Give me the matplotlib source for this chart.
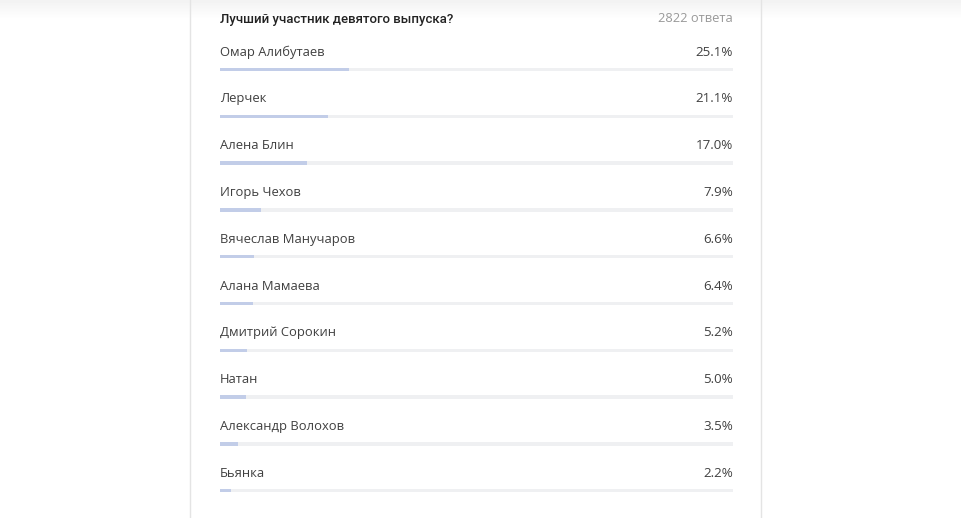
import numpy as np
import matplotlib.pyplot as plt
from matplotlib.lines import Line2D

title = 'Лучший участник девятого выпуска?'
total_label = '2822 ответа'
names = ['Омар Алибутаев', 'Лерчек', 'Алена Блин', 'Игорь Чехов',
         'Вячеслав Манучаров', 'Алана Мамаева', 'Дмитрий Сорокин',
         'Натан', 'Александр Волохов', 'Бьянка']
shares = [25.1, 21.1, 17.0, 7.9, 6.6, 6.4, 5.2, 5.0, 3.5, 2.2]

W, H = 961, 518
plt.rcParams['font.family'] = ['Open Sans', 'DejaVu Sans']

fig = plt.figure(figsize=(W / 100, H / 100), dpi=100)
fig.patch.set_facecolor('white')

# faint shadow at the top of the page
bg = fig.add_axes([0, 0, 1, 1])
bg.set_xlim(0, W)
bg.set_ylim(H, 0)
bg.axis('off')
grad = np.linspace(0.95, 1.0, 20).reshape(-1, 1)
bg.imshow(np.repeat(grad, 2, axis=1), cmap='gray', vmin=0, vmax=1,
          extent=(0, W, 20, 0), aspect='auto', zorder=0)

# card borders
for x in (190, 761):
    fig.add_artist(Line2D([x / W, x / W], [0, 1], color='#e4e4e4', lw=1))

# poll axes: x in percent, y in pixels
ax = fig.add_axes([220 / W, 0, 513 / W, 1])
ax.set_xlim(0, 100)
ax.set_ylim(H, 0)
ax.axis('off')

rows = 69.5 + 46.8 * np.arange(len(names))
ax.barh(rows, [100] * len(names), height=3.5, color='#eff0f2', zorder=1)
ax.barh(rows, shares, height=3.5, color='#c2cde8', zorder=2)

for y, name, v in zip(rows, names, shares):
    ax.text(0, y - 17.5, name, fontsize=9.4, color='#404040', va='center', ha='left')
    ax.text(100, y - 17.5, f'{v:.1f}%', fontsize=9.6, color='#404040', va='center', ha='right')

ax.text(0, 19, title, fontsize=9.5, color='#222222', va='center', ha='left',
        weight='medium', family=['Roboto', 'DejaVu Sans'])
ax.text(100, 19, total_label, fontsize=9.3, color='#999999', va='center', ha='right')

fig.savefig('out.png', dpi=100)
